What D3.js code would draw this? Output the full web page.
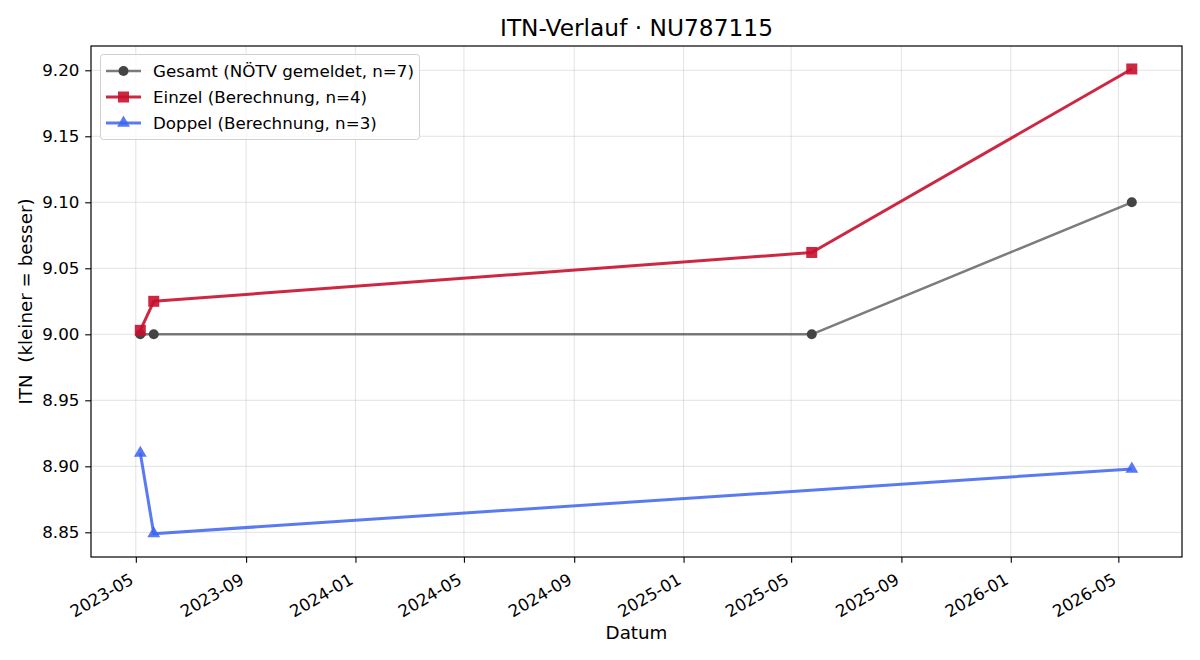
<!DOCTYPE html>
<html><head><meta charset="utf-8">
<script src="https://cdn.jsdelivr.net/npm/d3@7"></script>
<style>
body{margin:0;background:#fff;}
text{font-family:"DejaVu Sans",sans-serif;fill:#000;}
</style></head>
<body><svg id="c" width="1200" height="660"></svg>
<script>
const parse = d3.timeParse("%Y-%m-%d");
const gesamtDates = ["2023-05-06","2023-05-21","2025-05-24","2026-05-16"];
const gesamtValues = [9.000, 9.000, 9.000, 9.100];
const einzelDates = ["2023-05-06","2023-05-21","2025-05-24","2026-05-16"];
const einzelValues = [9.003, 9.025, 9.062, 9.201];
const doppelDates = ["2023-05-06","2023-05-21","2026-05-16"];
const doppelValues = [8.910, 8.849, 8.898];
const xTicks = ["2023-05","2023-09","2024-01","2024-05","2024-09","2025-01","2025-05","2025-09","2026-01","2026-05"];
const yTicks = [8.85, 8.90, 8.95, 9.00, 9.05, 9.10, 9.15, 9.20];
const seriesNames = ["Gesamt (NÖTV gemeldet, n=7)","Einzel (Berechnung, n=4)","Doppel (Berechnung, n=3)"];

const svg = d3.select("#c");
const L=91, R=1182, T=46, B=557;
const FS = 16.7;
const x = d3.scaleTime().domain([parse("2023-03-12"), parse("2026-07-11")]).range([L,R]);
const y = d3.scaleLinear().domain([8.8313, 9.2184]).range([B,T]);

// grid
const g = svg.append("g");
xTicks.forEach(t=>{
  const xx = x(d3.timeParse("%Y-%m")(t));
  g.append("line").attr("x1",xx).attr("x2",xx).attr("y1",T).attr("y2",B).attr("stroke","#b0b0b0").attr("stroke-opacity",0.35).attr("stroke-width",1);
});
yTicks.forEach(t=>{
  const yy = y(t);
  g.append("line").attr("x1",L).attr("x2",R).attr("y1",yy).attr("y2",yy).attr("stroke","#b0b0b0").attr("stroke-opacity",0.35).attr("stroke-width",1);
});

// axes
const xAxis = d3.axisBottom(x).tickValues(xTicks.map(d3.timeParse("%Y-%m"))).tickFormat(d3.timeFormat("%Y-%m")).tickSize(5.8).tickPadding(5.8);
const xg = svg.append("g").attr("transform",`translate(0,${B})`).call(xAxis);
xg.select(".domain").remove();
xg.selectAll("line").attr("stroke","#000").attr("stroke-width",1.1);
xg.selectAll("text").attr("font-size",FS+"px").attr("text-anchor","end")
  .attr("dy",null).attr("y",null)
  .attr("transform","translate(-1.5,26) rotate(-30)").attr("fill","#000")
  .attr("font-family","DejaVu Sans");

const yAxis = d3.axisLeft(y).tickValues(yTicks).tickFormat(d3.format(".2f")).tickSize(5.8).tickPadding(5.8);
const yg = svg.append("g").attr("transform",`translate(${L},0)`).call(yAxis);
yg.select(".domain").remove();
yg.selectAll("line").attr("stroke","#000").attr("stroke-width",1.1);
yg.selectAll("text").attr("font-size",FS+"px").attr("fill","#000").attr("font-family","DejaVu Sans");

// series
function pts(dates, vals){ return dates.map((d,i)=>({d:parse(d), v:vals[i]})); }
const line = d3.line().x(p=>x(p.d)).y(p=>y(p.v));
const S = [
  {data:pts(gesamtDates,gesamtValues), lc:"#444444", lo:0.7, lw:2.5, mc:"#444444", mo:1, m:"circle"},
  {data:pts(einzelDates,einzelValues), lc:"#c8102e", lo:0.9, lw:3, mc:"#c8102e", mo:0.9, m:"square"},
  {data:pts(doppelDates,doppelValues), lc:"#3d63f0", lo:0.85, lw:3, mc:"#3d63f0", mo:0.85, m:"triangle"}
];
function marker(sel, type, cx, cy, col, op){
  if(type==="circle") sel.append("circle").attr("cx",cx).attr("cy",cy).attr("r",5).attr("fill",col).attr("fill-opacity",op);
  else if(type==="square") sel.append("rect").attr("x",cx-5.5).attr("y",cy-5.5).attr("width",11).attr("height",11).attr("fill",col).attr("fill-opacity",op);
  else sel.append("path").attr("d",d3.symbol(d3.symbolTriangle, 72)()).attr("transform",`translate(${cx},${cy})`).attr("fill",col).attr("fill-opacity",op);
}
const plot = svg.append("g");
S.forEach(s=>{
  plot.append("path").datum(s.data).attr("d",line).attr("fill","none").attr("stroke",s.lc).attr("stroke-opacity",s.lo).attr("stroke-width",s.lw).attr("stroke-linejoin","round");
  s.data.forEach(p=>marker(plot, s.m, x(p.d), y(p.v), s.mc, s.mo));
});

// frame
svg.append("rect").attr("x",L).attr("y",T).attr("width",R-L).attr("height",B-T).attr("fill","none").attr("stroke","#000").attr("stroke-width",1.2);

// legend
const lg = svg.append("g");
lg.append("rect").attr("x",100.5).attr("y",54.5).attr("width",319).attr("height",85).attr("rx",3).attr("fill","#fff").attr("fill-opacity",0.8).attr("stroke","#d0d0d0").attr("stroke-width",1);
S.forEach((s,i)=>{
  const yy = 71 + i*26;
  lg.append("line").attr("x1",106).attr("x2",141).attr("y1",yy).attr("y2",yy).attr("stroke",s.lc).attr("stroke-opacity",s.lo).attr("stroke-width",s.lw);
  marker(lg, s.m, 123.5, yy, s.mc, s.mo);
  lg.append("text").attr("x",153).attr("y",yy).attr("dy","0.35em").attr("font-size",FS+"px").text(seriesNames[i]);
});

// titles
svg.append("text").attr("x",636.5).attr("y",36).attr("text-anchor","middle").attr("font-size","23.3px").text("ITN-Verlauf · NU787115");
svg.append("text").attr("x",636.5).attr("y",639).attr("text-anchor","middle").attr("font-size","18.3px").text("Datum");
svg.append("text").attr("transform","translate(32,301.5) rotate(-90)").attr("text-anchor","middle").attr("font-size","18.3px").attr("xml:space","preserve").style("white-space","pre").text("ITN  (kleiner = besser)");
</script></body></html>
